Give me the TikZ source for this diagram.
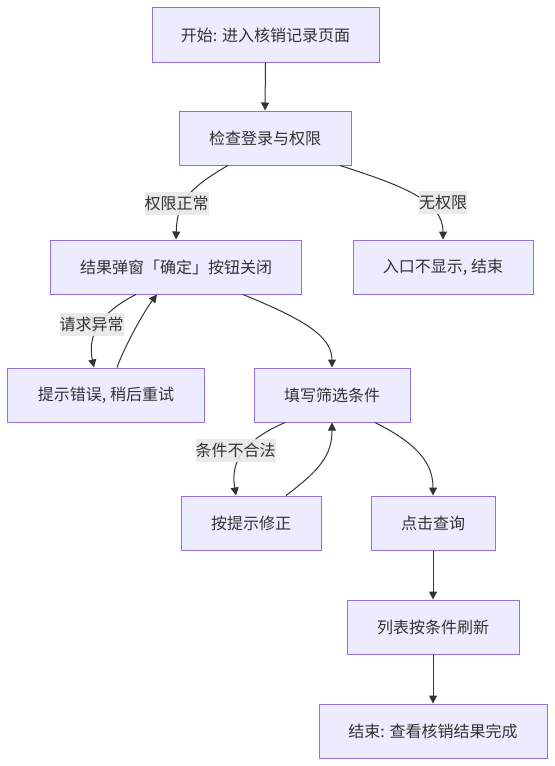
\documentclass[tikz,border=0pt]{standalone}
\usepackage{fontspec}
\setmainfont{Noto Sans CJK SC}
\usetikzlibrary{arrows.meta}
\definecolor{boxfill}{HTML}{ECECFF}
\definecolor{boxline}{HTML}{9370DB}
\definecolor{txt}{HTML}{333333}
\definecolor{lblbg}{HTML}{E8E8E8}
\tikzset{
  box/.style={draw=boxline, fill=boxfill, line width=1bp, minimum height=54bp, inner sep=0pt,
    text=txt, font=\fontsize{16bp}{20bp}\selectfont},
  lbl/.style={fill=lblbg, fill opacity=0.9, text opacity=1, text=txt, inner xsep=0pt, inner ysep=0pt,
    minimum height=23bp, font=\fontsize{16bp}{20bp}\selectfont},
  conn/.style={draw=txt, line width=1bp, -{Triangle[length=8bp,width=8bp]}}
}
\begin{document}
\begin{tikzpicture}[x=1bp,y=-1bp]
\useasboundingbox[fill=white] (0,0) rectangle (555,766);
\node[box, minimum width=227bp] (n1) at (265.5,35) {开始: 进入核销记录页面};
\node[box, minimum width=172bp] (n2) at (265,138) {检查登录与权限};
\node[box, minimum width=250bp] (n3) at (176,267) {结果弹窗「确定」按钮关闭};
\node[box, minimum width=180bp] (n4) at (443,267) {入口不显示, 结束};
\node[box, minimum width=196bp] (n5) at (106,395) {提示错误, 稍后重试};
\node[box, minimum width=156bp] (n6) at (332,395) {填写筛选条件};
\node[box, minimum width=140bp] (n7) at (251,523) {按提示修正};
\node[box, minimum width=124bp] (n8) at (433,523) {点击查询};
\node[box, minimum width=172bp] (n9) at (433,627) {列表按条件刷新};
\node[box, minimum width=228bp] (n10) at (433,731) {结束: 查看核销结果完成};

\draw[conn] (n1.south) -- (n2.north);
\draw[conn] ([xshift=-37bp]n2.south) .. controls (185,190) and (177,205) .. (n3.north);
\draw[conn] ([xshift=75bp]n2.south) .. controls (400,185) and (443,200) .. (n4.north);
\draw[conn] ([xshift=-40bp]n3.south) .. controls (95,315) and (88,340) .. ([xshift=-12bp]n5.north);
\draw[conn] ([xshift=11bp]n5.north) .. controls (125,345) and (145,310) .. ([xshift=-19bp]n3.south);
\draw[conn] ([xshift=67bp]n3.south) .. controls (300,318) and (332,335) .. (n6.north);
\draw[conn] ([xshift=-47bp]n6.south) .. controls (245,440) and (230,460) .. ([xshift=-15bp]n7.north);
\draw[conn] ([xshift=35bp]n7.north) .. controls (320,470) and (332,455) .. (n6.south);
\draw[conn] ([xshift=43bp]n6.south) .. controls (420,445) and (433,465) .. (n8.north);
\draw[conn] (n8.south) -- (n9.north);
\draw[conn] (n9.south) -- (n10.north);

\node[lbl] (l1) at (176.5,203) {权限正常};
\node[lbl] (l2) at (443,202) {无权限};
\node[lbl] (l3) at (91.5,324) {请求异常};
\node[lbl] (l4) at (235.5,450) {条件不合法};
\end{tikzpicture}
\end{document}
